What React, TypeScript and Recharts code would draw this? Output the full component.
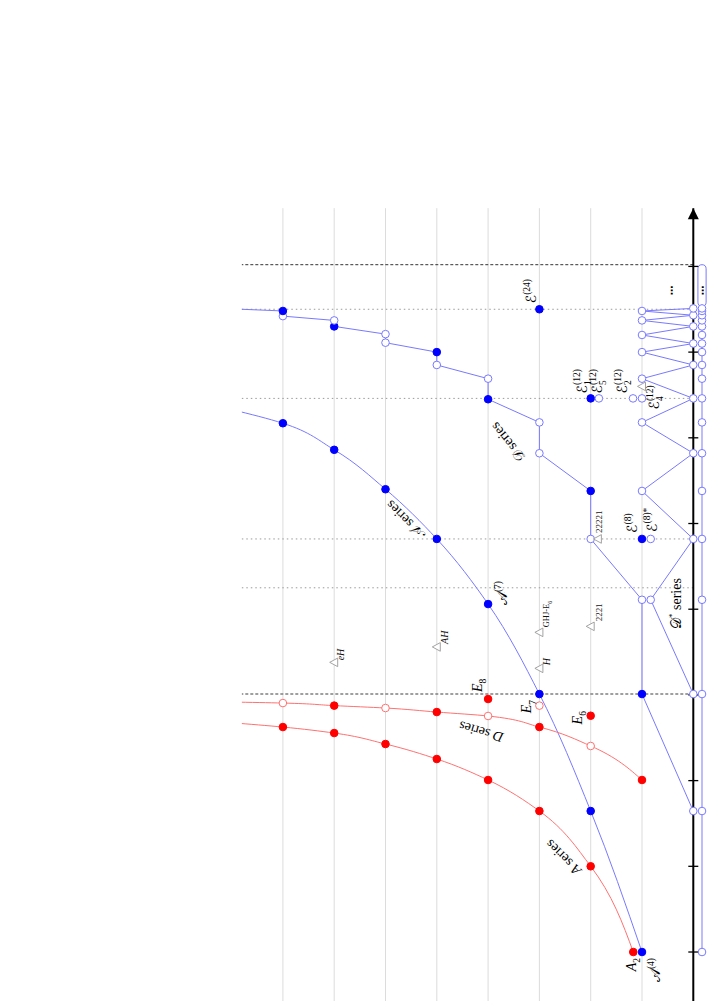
import React from 'react';
import {
  ComposedChart, Line, Scatter, XAxis, YAxis,
  ReferenceLine, ReferenceArea, ReferenceDot,
} from 'recharts';

// ---------------- data ----------------
const axisTicks = [0, 1, 2, 3, 4, 5, 6, 7, 8];
const gridRows = [1, 2, 3, 4, 5, 6, 7, 8];

// red A series (A_2, A_3, ...)
const redA_u = [0, 1.0, 1.645, 2.007, 2.252, 2.427, 2.555, 2.625, 2.675];
const redA_r = [1.17, 2, 3, 4, 5, 6, 7, 8, 9];

// red D series
const redD_u = [2.007, 2.404, 2.625, 2.754, 2.8, 2.847, 2.875, 2.905, 2.917];
const redD_r = [1, 2, 3, 4, 5, 6, 7, 8, 9];
const redD_filled = [true, false, true, false, true, false, true, false, true];

// blue script-A series
const blueA_u = [0, 1.645, 3.01, 4.06, 4.82, 5.4, 5.86, 6.17, 6.33];
const blueA_r = [1, 2, 3, 4, 5, 6, 7, 8, 9];

// blue script-D series
const blueD_u = [1.645, 3.01, 4.11, 4.82, 5.38, 5.82, 6.18, 6.45, 6.69, 6.85, 7.0, 7.11, 7.21, 7.3, 7.37, 7.42, 7.48, 7.505];
const blueD_r = [0, 1, 1, 2, 2, 3, 3, 4, 4, 5, 5, 6, 6, 7, 7, 8, 8, 9];
const blueD_filled = [false, true, false, false, true, false, false, true, false, false, true, false, false, true, false, false, true, false];

// blue D* series (zig-zag)
const dStar_u = [3.01, 4.11, 4.82, 5.38, 5.82, 6.18, 6.46, 6.69, 6.85, 7.0, 7.1, 7.2, 7.3, 7.37, 7.43, 7.48, 7.51];
const dStar_r = [0, 0.83, 0, 1, 0, 1, 0, 1, 0, 1, 0, 1, 0, 1, 0, 1, 0];

// projected spectrum row below the axis
const rug_u = [0, 1.645, 3.01, 4.11, 4.82, 5.38, 5.82, 6.18, 6.46, 6.69, 6.85, 7.0, 7.1, 7.2, 7.3, 7.37, 7.43, 7.48, 7.51];
const rugRow = -0.17;
const rugCapsule = { u1: 7.535, u2: 8.02, r1: -0.25, r2: -0.09 };

// isolated points
const redPoints = [
  { key: 'E6', u: 2.757, r: 2, f: true },
  { key: 'E7', u: 2.875, r: 3, f: false },
  { key: 'E8', u: 2.952, r: 4, f: true },
];
const bluePoints = [
  { key: 'E24', u: 7.5, r: 3, f: true },
  { key: 'E12_1', u: 6.46, r: 2, f: true },
  { key: 'E12_5', u: 6.46, r: 1.84, f: false },
  { key: 'E12_2', u: 6.46, r: 1.175, f: false },
  { key: 'E12_4', u: 6.46, r: 1, f: false },
  { key: 'E8b', u: 4.82, r: 1, f: true },
  { key: 'E8star', u: 4.82, r: 0.83, f: false },
];
const trianglePoints = [
  { key: '22221', u: 4.82, r: 1.86 },
  { key: '2221', u: 3.8, r: 2 },
  { key: 'GHJ', u: 3.73, r: 3 },
  { key: 'H', u: 3.31, r: 3 },
  { key: 'AH', u: 3.56, r: 5 },
  { key: 'eH', u: 3.38, r: 7 },
  { key: 'tri', u: 6.6, r: 1 },
];
const seriesPointLabels = [
  { key: 'A2', u: redA_u[0], r: redA_r[0] },
  { key: 'Ascr4', u: blueA_u[0], r: blueA_r[0] },
  { key: 'Ascr7', u: blueA_u[3], r: blueA_r[3] },
];
const dottedU = [4.25, 4.82, 6.46, 7.5];
const dashedU = [3.01, 8.02];

const curveLabels = [
  { key: 'redA', u: 1.1, r: 2.54 },
  { key: 'redD', u: 2.567, r: 4.14 },
  { key: 'blueA', u: 5.04, r: 5.62 },
  { key: 'blueD', u: 5.945, r: 3.62 },
];
const dStarLabel = [{ key: 'dstar', u: 3.77, r: 0.24 }];
const ellipsisMarks = [{ key: 'e1', u: 7.72, r: 0.43 }, { key: 'e2', u: 7.72, r: -0.17 }];

// label texts
type LT = { main: string; sub?: string; sup?: string; it?: boolean };
const labelText: Record<string, LT> = {
  A2: { main: 'A', sub: '2', it: true },
  Ascr4: { main: '𝒜', sup: '(4)' },
  Ascr7: { main: '𝒜', sup: '(7)' },
  E6: { main: 'E', sub: '6', it: true },
  E7: { main: 'E', sub: '7', it: true },
  E8: { main: 'E', sub: '8', it: true },
  E24: { main: 'ℰ', sup: '(24)' },
  E12_1: { main: 'ℰ', sub: '1', sup: '(12)' },
  E12_5: { main: 'ℰ', sub: '5', sup: '(12)' },
  E12_2: { main: 'ℰ', sub: '2', sup: '(12)' },
  E12_4: { main: 'ℰ', sub: '4', sup: '(12)' },
  E8b: { main: 'ℰ', sup: '(8)' },
  E8star: { main: 'ℰ', sup: '(8)*' },
  '22221': { main: '22221' },
  '2221': { main: '2221' },
  GHJ: { main: 'GHJ-E', sub: '6' },
  H: { main: 'H', it: true },
  AH: { main: 'AH', it: true },
  eH: { main: 'eH', it: true },
};
const curveText: Record<string, { lead: string; it: boolean }> = {
  redA: { lead: 'A', it: true },
  redD: { lead: 'D', it: true },
  blueA: { lead: '𝒜', it: false },
  blueD: { lead: '𝒟', it: false },
};

// ---------------- styles / layout ----------------
const RED = '#ff0000';
const RED_LINE = '#ff7070';
const BLUE = '#0000ff';
const BLUE_LINE = '#7878ff';
const GRAY_TRI = '#999999';
const SERIF = "'Liberation Serif', 'DejaVu Serif', 'DejaVu Sans', serif";

const labelPos: Record<string, { dx: number; dy: number; anchor?: string; fs?: number }> = {
  A2: { dx: -6, dy: 3, anchor: 'end' },
  Ascr4: { dx: -6, dy: 18, anchor: 'end' },
  Ascr7: { dx: -1, dy: 19 },
  E6: { dx: -2, dy: -9, anchor: 'middle' },
  E7: { dx: -1, dy: -8, anchor: 'middle' },
  E8: { dx: 7, dy: -6 },
  E24: { dx: 6, dy: -3 },
  E12_1: { dx: 5, dy: -4 },
  E12_5: { dx: 5, dy: 3 },
  E12_2: { dx: 5, dy: -6 },
  E12_4: { dx: 1, dy: 17, anchor: 'middle' },
  E8b: { dx: 6, dy: -5 },
  E8star: { dx: 7, dy: 6 },
  '22221': { dx: 6, dy: 4, fs: 9 },
  '2221': { dx: 5, dy: 11, fs: 9 },
  GHJ: { dx: 5, dy: 10, fs: 8.5 },
  H: { dx: 3, dy: 11, fs: 10 },
  AH: { dx: 3, dy: 11, fs: 10 },
  eH: { dx: 2, dy: 10, fs: 10 },
};
const curveAngle: Record<string, number> = { redA: -45, redD: -74, blueA: -45, blueD: -39 };

const U_MIN = -0.7, U_MAX = 8.68, R_MIN = -0.7, R_MAX = 8.8;
const ML = 48, MR = 30, MT = 41.86, MB = 20;
const PLOT_W = 803.87, PLOT_H = 487.35;
const W = ML + PLOT_W + MR;
const H = MT + PLOT_H + MB;

const zip = (u: number[], r: number[], f?: boolean[]) => u.map((x, i) => ({ u: x, r: r[i], f: f ? f[i] : true }));

const redAData = zip(redA_u, redA_r);
const redDData = zip(redD_u, redD_r, redD_filled);
const blueAData = zip(blueA_u, blueA_r);
const blueDData = zip(blueD_u, blueD_r, blueD_filled);
const dStarData = zip(dStar_u, dStar_r, dStar_u.map(() => false));
const rugData = rug_u.map((u) => ({ u, r: rugRow, f: false }));
const tickData = axisTicks.map((u) => ({ u, r: 0 }));

const makeDot = (color: string, openStroke: string) => (props: any) => {
  const { cx, cy, payload, index } = props;
  if (cx == null || cy == null) return <g key={`d${index}`} />;
  const filled = payload && payload.f;
  return (
    <circle key={`d${index}`} cx={cx} cy={cy} r={3.8}
      fill={filled ? color : '#ffffff'} stroke={filled ? color : openStroke} strokeWidth={1} />
  );
};

function MathText({ x, y, spec, anchor = 'start', fs = 14, fill = '#000' }: any) {
  const subFs = fs * 0.68;
  const parts: any[] = [];
  parts.push(<tspan key="m" fontStyle={spec.it ? 'italic' : 'normal'}>{spec.main}</tspan>);
  if (spec.sub) {
    parts.push(<tspan key="s" fontSize={subFs} dy={fs * 0.3}>{spec.sub}</tspan>);
  }
  if (spec.sup) {
    const back = spec.sub ? -spec.sub.length * subFs * 0.5 : 0;
    const up = spec.sub ? -(fs * 0.3 + fs * 0.45) : -fs * 0.45;
    parts.push(<tspan key="p" fontSize={subFs} dx={back} dy={up}>{spec.sup}</tspan>);
  }
  return (
    <text x={x} y={y} textAnchor={anchor} fontSize={fs} fontFamily={SERIF} fill={fill}>
      {parts}
    </text>
  );
}

const pointShape = (color: string, openStroke: string) => (props: any) => {
  const { cx, cy, payload } = props;
  const pos = labelPos[payload.key];
  const spec = labelText[payload.key];
  return (
    <g>
      <circle cx={cx} cy={cy} r={3.8} fill={payload.f ? color : '#fff'} stroke={payload.f ? color : openStroke} strokeWidth={1} />
      {spec && pos && (
        <MathText x={cx + pos.dx} y={cy + pos.dy} spec={spec} anchor={pos.anchor || 'start'} fs={pos.fs || 14} />
      )}
    </g>
  );
};

const triangleShape = (props: any) => {
  const { cx, cy, payload } = props;
  const pos = labelPos[payload.key];
  const spec = labelText[payload.key];
  return (
    <g>
      <polygon points={`${cx},${cy - 4.5} ${cx - 4.3},${cy + 3.5} ${cx + 4.3},${cy + 3.5}`}
        fill="#fff" stroke={GRAY_TRI} strokeWidth={0.9} />
      {spec && pos && (
        <MathText x={cx + pos.dx} y={cy + pos.dy} spec={spec} anchor={pos.anchor || 'start'} fs={pos.fs || 10} fill="#111" />
      )}
    </g>
  );
};

const seriesLabelShape = (props: any) => {
  const { cx, cy, payload } = props;
  const pos = labelPos[payload.key];
  const spec = labelText[payload.key];
  return <MathText x={cx + pos.dx} y={cy + pos.dy} spec={spec} anchor={pos.anchor || 'start'} fs={pos.fs || 14} />;
};

const curveLabelShape = (props: any) => {
  const { cx, cy, payload } = props;
  const t = curveText[payload.key];
  const a = curveAngle[payload.key];
  return (
    <text x={cx} y={cy} textAnchor="middle" dominantBaseline="central" fontSize={14} fontFamily={SERIF}
      transform={`rotate(${a} ${cx} ${cy})`} fill="#000">
      <tspan fontStyle={t.it ? 'italic' : 'normal'}>{t.lead}</tspan>
      <tspan> series</tspan>
    </text>
  );
};

const dStarShape = (props: any) => {
  const { cx, cy } = props;
  return (
    <text x={cx} y={cy} fontSize={14} fontFamily={SERIF} fill="#000">
      <tspan>𝒟</tspan>
      <tspan fontSize={9} dy={-6}>*</tspan>
      <tspan dy={6}> series</tspan>
    </text>
  );
};

const ellipsisShape = (props: any) => {
  const { cx, cy } = props;
  return (
    <text x={cx} y={cy} textAnchor="middle" dominantBaseline="central" fontSize={10} fontFamily="'DejaVu Sans', sans-serif" fontWeight="bold" fill="#000">⋯</text>
  );
};

const tickShape = (props: any) => {
  const { cx, cy } = props;
  return <line x1={cx} y1={cy - 5} x2={cx} y2={cy + 5} stroke="#000" strokeWidth={1.3} />;
};

const arrowShape = (props: any) => {
  const { cx, cy } = props;
  return <polygon points={`${cx},${cy} ${cx - 11},${cy - 5.5} ${cx - 11},${cy + 5.5}`} fill="#000" />;
};

const capsuleShape = (props: any) => {
  const { x, y, width, height } = props;
  return <rect x={x} y={y} width={width} height={height} rx={Math.min(width, height) / 2} ry={Math.min(width, height) / 2} fill="#fff" stroke={BLUE_LINE} strokeWidth={1} />;
};

export default function App() {
  return (
    <div style={{ position: 'fixed', left: 0, top: 0, width: 708, height: 1001, overflow: 'hidden', background: '#fff' }}>
      <div style={{ position: 'absolute', left: 200, top: 1060, width: W, height: H, transform: 'rotate(-90deg)', transformOrigin: '0 0' }}>
        <ComposedChart width={W} height={H} margin={{ top: MT, right: MR, bottom: MB, left: ML }}>
          <XAxis type="number" dataKey="u" domain={[U_MIN, U_MAX]} allowDataOverflow hide />
          <YAxis type="number" dataKey="r" domain={[R_MIN, R_MAX]} allowDataOverflow hide />

          {gridRows.map((r) => (
            <ReferenceLine key={`g${r}`} y={r} stroke="#dcdcdc" strokeWidth={1} />
          ))}
          {dottedU.map((u) => (
            <ReferenceLine key={`dot${u}`} segment={[{ x: u, y: 0 }, { x: u, y: R_MAX }]} stroke="#9a9a9a" strokeDasharray="1.5 3" strokeWidth={1} />
          ))}
          <ReferenceLine segment={[{ x: dashedU[0], y: 0 }, { x: dashedU[0], y: R_MAX }]} stroke="#808080" strokeDasharray="3 2" strokeWidth={1.6} />
          <ReferenceLine segment={[{ x: dashedU[1], y: 0 }, { x: dashedU[1], y: R_MAX }]} stroke="#333333" strokeDasharray="3 2" strokeWidth={1} />
          <ReferenceLine y={0} stroke="#000" strokeWidth={2} />
          <ReferenceDot x={U_MAX} y={0} r={0} shape={arrowShape} />
          <ReferenceArea x1={rugCapsule.u1} x2={rugCapsule.u2} y1={rugCapsule.r1} y2={rugCapsule.r2} shape={capsuleShape} />

          <Scatter data={tickData} shape={tickShape} isAnimationActive={false} />

          <Line data={rugData} dataKey="r" type="linear" stroke={BLUE_LINE} strokeWidth={1} dot={makeDot(BLUE, BLUE_LINE)} isAnimationActive={false} />
          <Line data={dStarData} dataKey="r" type="linear" stroke={BLUE_LINE} strokeWidth={1} dot={makeDot(BLUE, BLUE_LINE)} isAnimationActive={false} />
          <Line data={blueDData} dataKey="r" type="linear" stroke={BLUE_LINE} strokeWidth={1} dot={makeDot(BLUE, BLUE_LINE)} isAnimationActive={false} />
          <Line data={blueAData} dataKey="r" type="monotone" stroke={BLUE_LINE} strokeWidth={1} dot={makeDot(BLUE, BLUE_LINE)} isAnimationActive={false} />
          <Line data={redDData} dataKey="r" type="monotone" stroke={RED_LINE} strokeWidth={1} dot={makeDot(RED, RED_LINE)} isAnimationActive={false} />
          <Line data={redAData} dataKey="r" type="monotone" stroke={RED_LINE} strokeWidth={1} dot={makeDot(RED, RED_LINE)} isAnimationActive={false} />

          <Scatter data={trianglePoints} shape={triangleShape} isAnimationActive={false} />
          <Scatter data={redPoints} shape={pointShape(RED, RED_LINE)} isAnimationActive={false} />
          <Scatter data={bluePoints} shape={pointShape(BLUE, BLUE_LINE)} isAnimationActive={false} />
          <Scatter data={seriesPointLabels} shape={seriesLabelShape} isAnimationActive={false} />
          <Scatter data={curveLabels} shape={curveLabelShape} isAnimationActive={false} />
          <Scatter data={dStarLabel} shape={dStarShape} isAnimationActive={false} />
          <Scatter data={ellipsisMarks} shape={ellipsisShape} isAnimationActive={false} />
        </ComposedChart>
      </div>
    </div>
  );
}
